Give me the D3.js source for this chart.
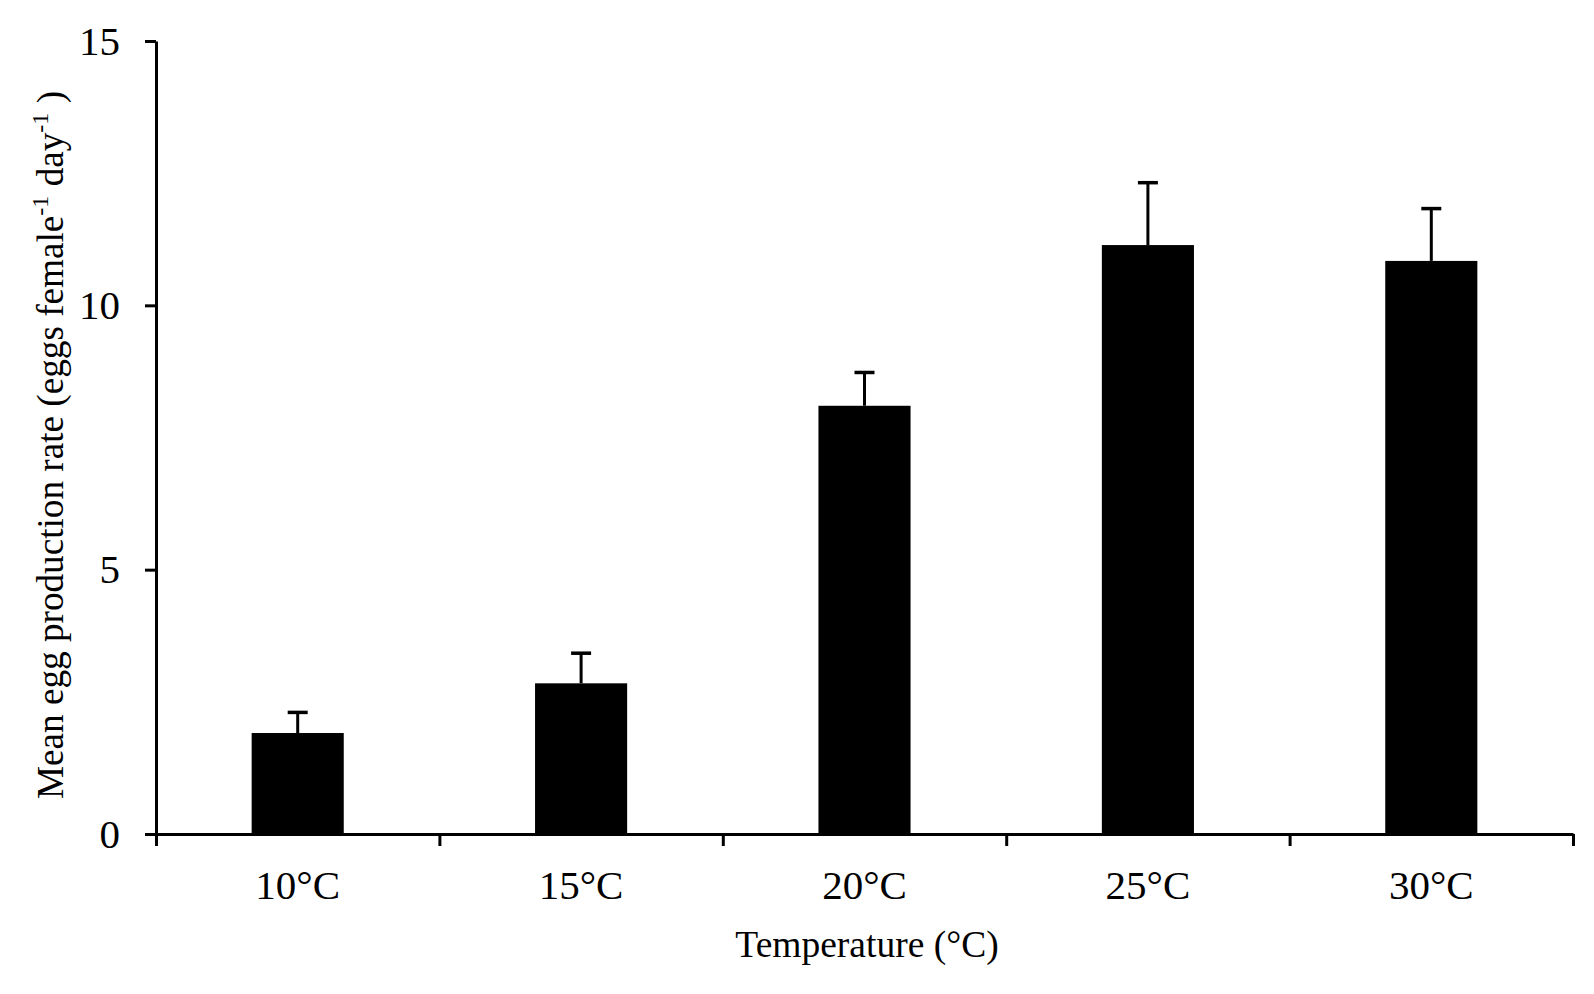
<!DOCTYPE html>
<html>
<head>
<meta charset="utf-8">
<script src="https://cdn.jsdelivr.net/npm/d3@7"></script>
<style>
  body { margin: 0; background: #fff; }
  text { font-family: "Liberation Serif", "Times New Roman", serif; fill: #000; }
</style>
</head>
<body>
<div id="chart-area"></div>
<script>
// egg production by temperature
var categories = ["10°C", "15°C", "20°C", "25°C", "30°C"];
var means = [1.91, 2.85, 8.10, 11.14, 10.84];
var errors = [0.39, 0.57, 0.63, 1.18, 0.99];
var yTicks = [0, 5, 10, 15];

var data = categories.map((c, i) => ({ cat: c, mean: means[i], err: errors[i] }));

var margin = {left: 156, right: 21, top: 41, bottom: 160};
var width = 1594 - margin.left - margin.right;
var height = 994 - margin.top - margin.bottom;

var svg = d3.select("#chart-area")
  .append("svg")
    .attr("width", 1594)
    .attr("height", 994);

var g = svg.append("g")
    .attr("transform", "translate(" + margin.left + ", " + margin.top + ")");

var x = d3.scaleBand()
    .domain(categories)
    .range([0, width])
    .paddingInner(0.675)
    .paddingOuter(0.3375);

var y = d3.scaleLinear()
    .domain([0, 15])
    .range([height, 0]);

// bars
g.selectAll("rect.bar").data(data)
  .enter()
  .append("rect")
    .attr("class", "bar")
    .attr("x", (d) => x(d.cat))
    .attr("y", (d) => y(d.mean))
    .attr("width", x.bandwidth())
    .attr("height", (d) => height - y(d.mean))
    .attr("fill", "#000");

// error bars (upper only)
var eb = g.selectAll("g.err").data(data)
  .enter()
  .append("g")
    .attr("class", "err");

eb.append("line")
    .attr("x1", (d) => x(d.cat) + x.bandwidth() / 2)
    .attr("x2", (d) => x(d.cat) + x.bandwidth() / 2)
    .attr("y1", (d) => y(d.mean))
    .attr("y2", (d) => y(d.mean + d.err))
    .attr("stroke", "#000")
    .attr("stroke-width", 3);

eb.append("line")
    .attr("x1", (d) => x(d.cat) + x.bandwidth() / 2 - 10)
    .attr("x2", (d) => x(d.cat) + x.bandwidth() / 2 + 10)
    .attr("y1", (d) => y(d.mean + d.err))
    .attr("y2", (d) => y(d.mean + d.err))
    .attr("stroke", "#000")
    .attr("stroke-width", 3.5);

// x axis: ticks at category boundaries
var xEdge = d3.scaleLinear().domain([0, categories.length]).range([0, width]);
g.append("g")
    .attr("class", "bottom axis")
    .attr("transform", "translate(0, " + height + ")")
    .call(d3.axisBottom(xEdge)
        .tickValues(d3.range(categories.length + 1))
        .tickSize(12)
        .tickSizeOuter(0)
        .tickFormat(""));

var bottomLabels = g.append("g")
    .attr("transform", "translate(0, " + height + ")")
    .call(d3.axisBottom(x).tickSize(0).tickPadding(36));
bottomLabels.select(".domain").remove();
bottomLabels.selectAll("text")
    .attr("font-size", "41px")
    .attr("font-family", "Liberation Serif, Times New Roman, serif")
    .attr("fill", "#000");

// y axis
var leftAxis = g.append("g")
    .attr("class", "left axis")
    .call(d3.axisLeft(y)
        .tickValues(yTicks)
        .tickSize(11)
        .tickSizeOuter(0)
        .tickPadding(25));
leftAxis.selectAll("text")
    .attr("font-size", "41px")
    .attr("font-family", "Liberation Serif, Times New Roman, serif")
    .attr("fill", "#000");

svg.selectAll(".axis path, .axis line")
    .attr("stroke", "#000")
    .attr("stroke-width", 3);

// axis labels
g.append("text")
    .attr("class", "x axis-label")
    .attr("x", 867 - margin.left)
    .attr("y", height + 123)
    .attr("font-size", "37.5px")
    .attr("text-anchor", "middle")
    .text("Temperature (°C)");

var yl = g.append("text")
    .attr("class", "y axis-label")
    .attr("x", -(445 - margin.top))
    .attr("y", 63 - margin.left)
    .attr("font-size", "37.2px")
    .attr("text-anchor", "middle")
    .attr("transform", "rotate(-90)");
yl.append("tspan").text("Mean egg production rate (eggs female");
yl.append("tspan").attr("font-size", "24px").attr("dy", "-15").text("-1");
yl.append("tspan").attr("dy", "15").text(" day");
yl.append("tspan").attr("font-size", "24px").attr("dy", "-15").text("-1");
yl.append("tspan").attr("dy", "15").text(" )");
</script>
</body>
</html>
